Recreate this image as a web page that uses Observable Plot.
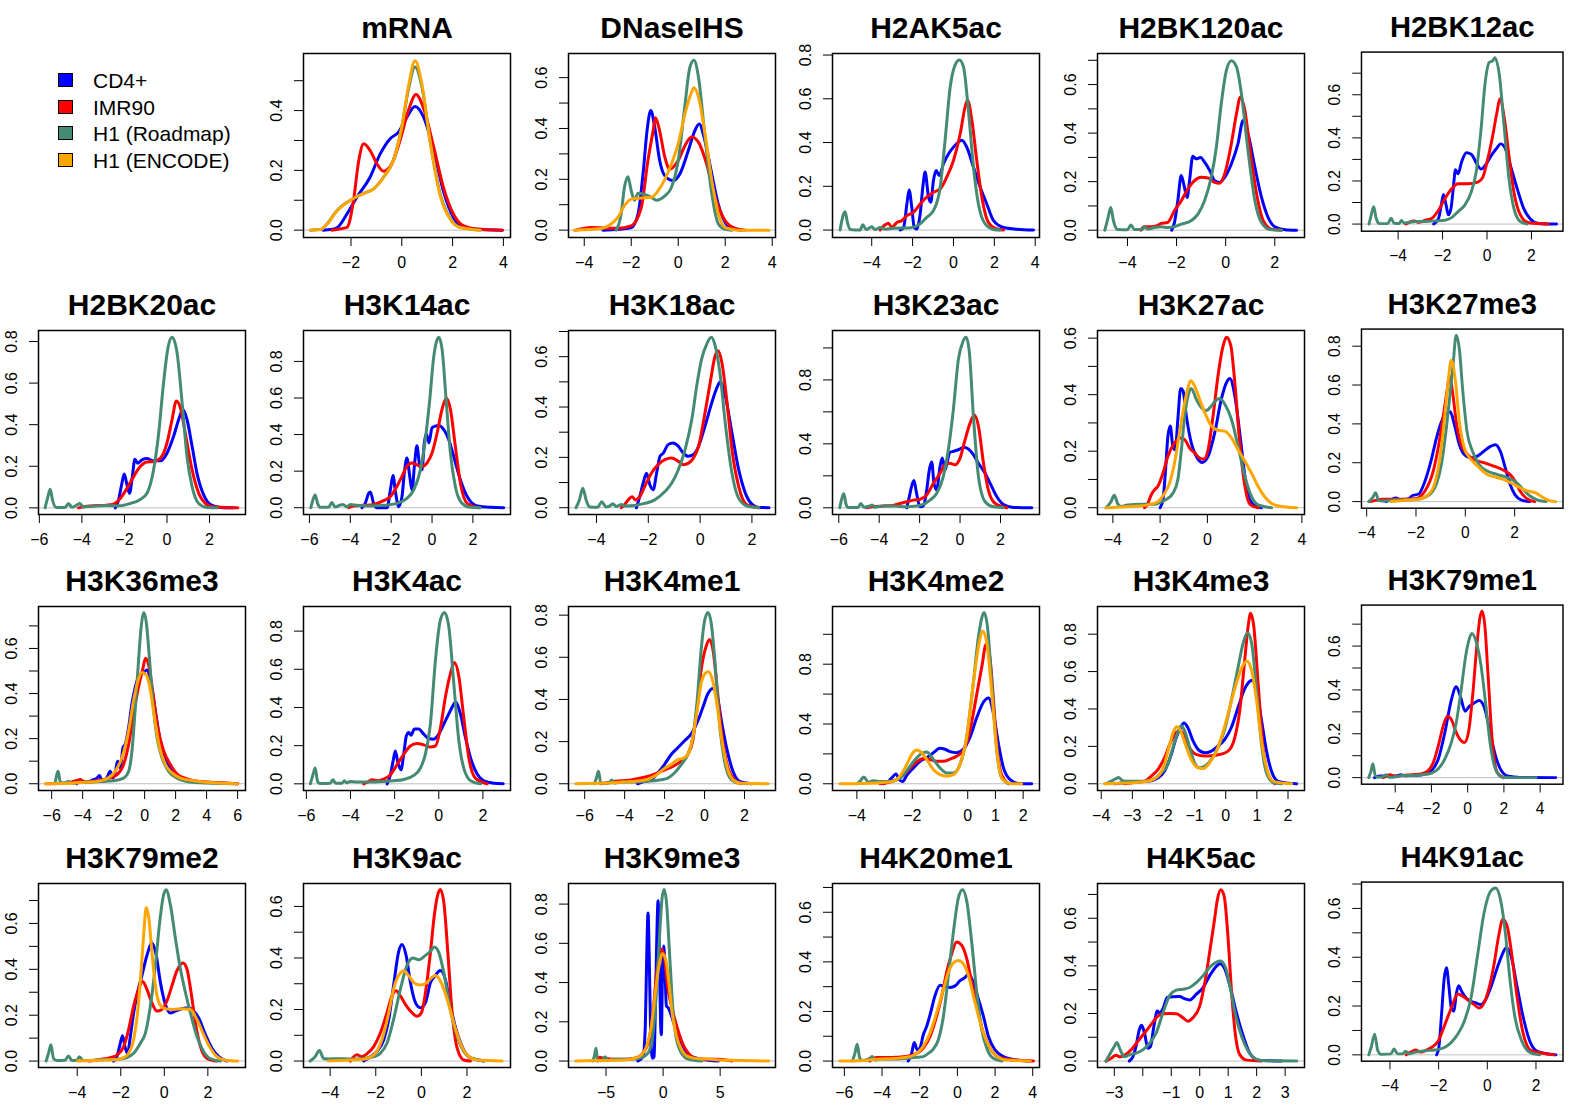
<!DOCTYPE html>
<html><head><meta charset="utf-8">
<script src="https://cdn.jsdelivr.net/npm/d3@7"></script>
<script src="https://cdn.jsdelivr.net/npm/@observablehq/plot@0.6"></script>
<style>
html,body{margin:0;padding:0;background:#fff;overflow:hidden}
#fig{position:relative;width:1581px;height:1107px;overflow:hidden;font-family:"Liberation Sans",Arial,sans-serif;background:#fff}
.panel{position:absolute}
.li{position:absolute;font-size:21px;color:#000;white-space:nowrap;line-height:21px;transform:translateY(-50%)}
.sw{position:absolute;width:15px;height:14px;border:1.5px solid #000;box-sizing:border-box;transform:translateY(-50%)}
</style></head><body><div id="fig"></div><script>
// ---------- series / legend ----------
const seriesNames = ["CD4+","IMR90","H1 (Roadmap)","H1 (ENCODE)"];
const seriesColors = ["#0000FF","#FF0000","#458B74","#FFA500"];

// ---------- curves: [x, density] ----------
const mRNA_CD4=[[-3.1,0],[-2.8,0.002],[-2.55,0.008],[-2.16,0.054],[-1.77,0.11],[-1.25,0.177],[-0.85,0.255],[-0.46,0.306],[-0.13,0.328],[0.2,0.378],[0.52,0.414],[0.85,0.38],[1.25,0.27],[1.64,0.13],[2.03,0.043],[2.42,0.011],[2.95,0.003],[3.96,0]];
const mRNA_IMR90=[[-2.75,0],[-2.16,0.009],[-1.9,0.1],[-1.7,0.23],[-1.5,0.289],[-1.25,0.267],[-0.98,0.222],[-0.72,0.197],[-0.39,0.222],[-0.07,0.3],[0.26,0.4],[0.56,0.454],[0.85,0.41],[1.25,0.28],[1.64,0.143],[2.03,0.054],[2.42,0.015],[2.95,0.004],[3.96,0]];
const mRNA_H1R=[[-3.6,0],[-3.2,0.002],[-2.95,0.02],[-2.55,0.066],[-2.03,0.1],[-1.5,0.123],[-1.11,0.138],[-0.72,0.177],[-0.33,0.235],[0,0.345],[0.26,0.47],[0.52,0.546],[0.79,0.48],[1.11,0.3],[1.5,0.125],[1.9,0.04],[2.29,0.01],[3.1,0]];
const mRNA_H1E=[[-3.6,0],[-3.2,0.002],[-2.95,0.02],[-2.55,0.065],[-2.03,0.1],[-1.5,0.123],[-1.11,0.138],[-0.72,0.177],[-0.33,0.233],[0,0.345],[0.26,0.48],[0.52,0.567],[0.79,0.49],[1.11,0.3],[1.5,0.12],[1.9,0.037],[2.29,0.009],[3.08,0]];

const DNase_CD4=[[-3.2,0],[-2.57,0.003],[-2.0,0.01],[-1.71,0.063],[-1.5,0.22],[-1.31,0.405],[-1.17,0.471],[-1.0,0.405],[-0.79,0.274],[-0.57,0.214],[-0.21,0.195],[0.07,0.221],[0.43,0.313],[0.71,0.392],[0.89,0.418],[1.14,0.35],[1.43,0.22],[1.71,0.1],[2.0,0.03],[2.29,0.004],[2.71,0]];
const DNase_IMR90=[[-4.36,0],[-3.71,0.01],[-2.57,0.007],[-2.0,0.017],[-1.57,0.09],[-1.29,0.274],[-1.07,0.39],[-0.97,0.442],[-0.79,0.39],[-0.57,0.287],[-0.36,0.24],[0,0.274],[0.29,0.333],[0.57,0.366],[0.86,0.346],[1.21,0.26],[1.57,0.129],[2.0,0.037],[2.43,0.007],[2.86,0]];
const DNase_H1R=[[-2.64,0],[-2.43,0.063],[-2.29,0.168],[-2.14,0.21],[-2.0,0.155],[-1.86,0.118],[-1.71,0.145],[-1.43,0.14],[-1.14,0.129],[-0.93,0.118],[-0.57,0.135],[-0.29,0.168],[0,0.274],[0.26,0.471],[0.5,0.642],[0.67,0.668],[0.86,0.603],[1.14,0.366],[1.43,0.142],[1.71,0.024],[2.0,0.003],[2.29,0]];
const DNase_H1E=[[-4.43,0],[-3.29,0.006],[-2.86,0.024],[-2.57,0.05],[-2.29,0.096],[-2.0,0.122],[-1.57,0.126],[-1.14,0.129],[-0.86,0.155],[-0.57,0.2],[-0.29,0.26],[0,0.34],[0.29,0.458],[0.57,0.543],[0.67,0.56],[0.86,0.524],[1.14,0.379],[1.43,0.195],[1.71,0.063],[2.0,0.01],[2.57,0],[3.86,0]];

const H2AK5ac_CD4=[[-2.61,0],[-2.44,0.012],[-2.28,0.119],[-2.17,0.183],[-2.04,0.104],[-1.92,0.012],[-1.79,0.005],[-1.63,0.073],[-1.5,0.196],[-1.39,0.265],[-1.22,0.15],[-1.11,0.127],[-0.98,0.226],[-0.85,0.272],[-0.69,0.249],[-0.49,0.303],[-0.24,0.349],[0,0.379],[0.24,0.402],[0.41,0.41],[0.65,0.379],[0.98,0.287],[1.31,0.196],[1.63,0.119],[1.96,0.043],[2.45,0.012],[3.1,0.004],[3.92,0]];
const H2AK5ac_IMR90=[[-3.59,0],[-3.34,0.024],[-3.18,0.031],[-3.02,0.012],[-2.77,0.035],[-2.53,0.043],[-2.28,0.066],[-1.96,0.081],[-1.63,0.119],[-1.31,0.15],[-0.98,0.173],[-0.65,0.188],[-0.33,0.242],[0,0.318],[0.33,0.44],[0.57,0.563],[0.69,0.593],[0.9,0.502],[1.14,0.318],[1.39,0.15],[1.71,0.035],[2.12,0.005],[2.45,0]];
const H2AK5ac_H1R=[[-5.55,0],[-5.38,0.073],[-5.3,0.084],[-5.19,0.035],[-5.06,0.003],[-4.57,0],[-4.44,0.024],[-4.27,0.002],[-4.0,0.015],[-3.83,0.002],[-3.59,0.012],[-3.34,0.004],[-2.94,0.008],[-2.12,0.01],[-1.71,0.023],[-1.31,0.058],[-0.98,0.089],[-0.65,0.196],[-0.41,0.41],[-0.16,0.654],[0.08,0.754],[0.29,0.777],[0.49,0.746],[0.73,0.547],[0.98,0.287],[1.22,0.119],[1.55,0.028],[1.96,0.003],[2.28,0]];

const H2BK120ac_CD4=[[-2.2,0],[-2.09,0.03],[-1.95,0.121],[-1.81,0.225],[-1.68,0.177],[-1.57,0.135],[-1.47,0.205],[-1.34,0.305],[-1.2,0.294],[-1.02,0.3],[-0.86,0.28],[-0.65,0.246],[-0.45,0.204],[-0.25,0.197],[-0.04,0.218],[0.23,0.273],[0.5,0.356],[0.71,0.452],[0.91,0.397],[1.19,0.259],[1.46,0.135],[1.73,0.052],[2.0,0.014],[2.41,0.002],[2.89,0]];
const H2BK120ac_IMR90=[[-3.45,0],[-3.32,0.014],[-3.04,0.014],[-2.77,0.02],[-2.63,0.028],[-2.36,0.032],[-2.09,0.08],[-1.81,0.121],[-1.54,0.17],[-1.27,0.204],[-1.0,0.218],[-0.72,0.215],[-0.45,0.197],[-0.25,0.193],[-0.04,0.232],[0.23,0.356],[0.44,0.48],[0.6,0.549],[0.78,0.494],[0.98,0.342],[1.26,0.149],[1.53,0.039],[1.87,0.004],[2.28,0]];
const H2BK120ac_H1R=[[-4.92,0],[-4.79,0.052],[-4.68,0.094],[-4.57,0.039],[-4.4,0.003],[-4.0,0.002],[-3.86,0.022],[-3.72,0.003],[-3.38,0.004],[-3.32,0.014],[-3.18,0.005],[-2.9,0.011],[-2.63,0.014],[-2.36,0.011],[-2.09,0.014],[-1.81,0.025],[-1.41,0.039],[-1.13,0.066],[-0.86,0.121],[-0.59,0.218],[-0.38,0.342],[-0.18,0.521],[0.03,0.659],[0.23,0.698],[0.44,0.673],[0.64,0.563],[0.91,0.328],[1.19,0.121],[1.46,0.032],[1.8,0.003],[2.28,0]];

const H2BK12ac_CD4=[[-2.4,0],[-2.18,0.027],[-2.06,0.088],[-1.96,0.137],[-1.84,0.088],[-1.74,0.043],[-1.62,0.073],[-1.52,0.164],[-1.42,0.252],[-1.3,0.233],[-1.15,0.286],[-0.93,0.331],[-0.71,0.324],[-0.49,0.286],[-0.27,0.255],[-0.04,0.278],[0.18,0.316],[0.4,0.347],[0.62,0.372],[0.84,0.347],[1.06,0.27],[1.36,0.164],[1.65,0.073],[1.95,0.024],[2.32,0.003],[3.13,0]];
const H2BK12ac_IMR90=[[-3.66,0],[-3.51,0.008],[-3.29,0.015],[-3.07,0.008],[-2.77,0.018],[-2.48,0.027],[-2.18,0.065],[-1.89,0.119],[-1.59,0.164],[-1.3,0.187],[-0.86,0.187],[-0.41,0.195],[-0.19,0.217],[0.03,0.3],[0.25,0.407],[0.44,0.514],[0.58,0.582],[0.77,0.498],[0.99,0.316],[1.21,0.149],[1.5,0.043],[1.87,0.006],[2.76,0]];
const H2BK12ac_H1R=[[-5.31,0],[-5.21,0.043],[-5.1,0.08],[-4.99,0.027],[-4.84,0.002],[-4.47,0.002],[-4.32,0.027],[-4.18,0.004],[-3.95,0.003],[-3.85,0.017],[-3.73,0.005],[-3.51,0.008],[-3.22,0.012],[-2.77,0.012],[-2.33,0.015],[-1.89,0.018],[-1.59,0.03],[-1.3,0.058],[-1.0,0.088],[-0.71,0.149],[-0.49,0.24],[-0.27,0.438],[-0.09,0.65],[0.1,0.75],[0.25,0.757],[0.35,0.772],[0.55,0.696],[0.77,0.453],[0.99,0.21],[1.21,0.073],[1.5,0.012],[1.8,0]];

const H2BK20ac_CD4=[[-2.43,0],[-2.28,0.037],[-2.12,0.118],[-2.01,0.163],[-1.88,0.11],[-1.76,0.07],[-1.63,0.15],[-1.51,0.234],[-1.38,0.215],[-1.18,0.231],[-0.94,0.237],[-0.63,0.226],[-0.31,0.226],[0,0.263],[0.31,0.344],[0.55,0.425],[0.75,0.473],[0.94,0.425],[1.18,0.296],[1.41,0.166],[1.73,0.061],[2.04,0.016],[2.51,0.002],[3.14,0]];
const H2BK20ac_IMR90=[[-4.16,0],[-3.77,0.008],[-3.3,0.011],[-2.83,0.013],[-2.51,0.018],[-2.2,0.045],[-1.88,0.094],[-1.57,0.15],[-1.26,0.199],[-0.94,0.221],[-0.63,0.223],[-0.31,0.239],[0,0.312],[0.24,0.425],[0.44,0.514],[0.63,0.481],[0.86,0.36],[1.18,0.183],[1.57,0.053],[2.04,0.008],[2.67,0.002],[3.33,0]];
const H2BK20ac_H1R=[[-5.73,0],[-5.6,0.053],[-5.49,0.089],[-5.38,0.037],[-5.21,0.002],[-4.79,0.002],[-4.63,0.021],[-4.47,0.003],[-4.24,0.013],[-4.11,0.021],[-3.92,0.004],[-3.45,0.008],[-2.83,0.011],[-2.2,0.01],[-1.73,0.021],[-1.26,0.04],[-0.94,0.07],[-0.63,0.183],[-0.39,0.36],[-0.16,0.603],[0.05,0.772],[0.24,0.82],[0.47,0.748],[0.71,0.506],[0.94,0.247],[1.18,0.102],[1.49,0.021],[1.88,0.002],[2.35,0]];

const H3K14ac_CD4=[[-3.43,0],[-3.27,0.024],[-3.1,0.079],[-3.02,0.086],[-2.86,0.024],[-2.7,0],[-2.2,0],[-2.04,0.097],[-1.91,0.176],[-1.78,0.079],[-1.63,0.006],[-1.47,0.061],[-1.34,0.207],[-1.23,0.272],[-1.09,0.171],[-0.98,0.097],[-0.85,0.244],[-0.74,0.339],[-0.6,0.226],[-0.49,0.207],[-0.38,0.354],[-0.28,0.405],[-0.15,0.354],[0,0.437],[0.16,0.446],[0.33,0.45],[0.57,0.428],[0.82,0.372],[1.06,0.281],[1.39,0.152],[1.72,0.061],[2.21,0.009],[2.86,0.002],[3.51,0]];
const H3K14ac_IMR90=[[-4.08,0],[-3.84,0.009],[-3.35,0.013],[-2.86,0.018],[-2.37,0.039],[-2.04,0.061],[-1.72,0.116],[-1.47,0.171],[-1.23,0.226],[-0.98,0.244],[-0.74,0.235],[-0.49,0.226],[-0.25,0.244],[0,0.299],[0.25,0.409],[0.49,0.538],[0.7,0.598],[0.9,0.538],[1.14,0.336],[1.39,0.134],[1.72,0.024],[2.29,0]];
const H3K14ac_H1R=[[-5.93,0],[-5.83,0.042],[-5.72,0.07],[-5.6,0.024],[-5.47,0.002],[-5.07,0.002],[-4.9,0.028],[-4.74,0.004],[-4.49,0.015],[-4.36,0.018],[-4.17,0.005],[-4.0,0.018],[-3.68,0.013],[-3.02,0.009],[-2.37,0.013],[-1.72,0.024],[-1.23,0.051],[-0.9,0.097],[-0.57,0.207],[-0.33,0.372],[-0.11,0.593],[0.08,0.822],[0.21,0.905],[0.33,0.932],[0.49,0.868],[0.7,0.574],[0.9,0.299],[1.14,0.116],[1.47,0.024],[1.88,0.002],[2.37,0]];

const H3K18ac_CD4=[[-2.46,0],[-2.33,0.044],[-2.2,0.097],[-2.07,0.137],[-1.94,0.091],[-1.81,0.071],[-1.68,0.137],[-1.55,0.204],[-1.42,0.217],[-1.23,0.251],[-1.04,0.257],[-0.84,0.244],[-0.65,0.217],[-0.45,0.204],[-0.26,0.211],[-0.06,0.244],[0.19,0.324],[0.45,0.417],[0.65,0.477],[0.78,0.5],[0.97,0.444],[1.23,0.297],[1.49,0.151],[1.75,0.057],[2.01,0.013],[2.27,0.001],[2.66,0]];
const H3K18ac_IMR90=[[-3.04,0],[-2.91,0.013],[-2.72,0.037],[-2.63,0.044],[-2.5,0.031],[-2.33,0.044],[-2.14,0.084],[-1.88,0.137],[-1.62,0.171],[-1.36,0.191],[-1.1,0.197],[-0.84,0.184],[-0.65,0.171],[-0.45,0.177],[-0.26,0.197],[-0.06,0.244],[0.19,0.377],[0.39,0.497],[0.58,0.604],[0.69,0.624],[0.84,0.577],[1.04,0.417],[1.23,0.231],[1.49,0.084],[1.81,0.011],[2.27,0]];
const H3K18ac_H1R=[[-4.79,0],[-4.66,0.031],[-4.53,0.077],[-4.4,0.031],[-4.27,0.003],[-3.95,0.002],[-3.8,0.024],[-3.63,0.003],[-3.43,0.011],[-3.37,0.016],[-3.24,0.005],[-3.04,0.013],[-2.91,0.007],[-2.53,0.009],[-2.14,0.017],[-1.75,0.031],[-1.36,0.064],[-1.1,0.097],[-0.84,0.151],[-0.58,0.231],[-0.32,0.351],[-0.13,0.484],[0.06,0.591],[0.26,0.651],[0.43,0.677],[0.58,0.644],[0.78,0.524],[0.97,0.337],[1.23,0.137],[1.49,0.037],[1.81,0.007],[2.27,0]];

const H3K23ac_CD4=[[-2.64,0],[-2.51,0.069],[-2.4,0.132],[-2.28,0.17],[-2.15,0.09],[-1.98,0.006],[-1.82,0.01],[-1.65,0.111],[-1.52,0.237],[-1.4,0.286],[-1.29,0.153],[-1.16,0.111],[-0.99,0.258],[-0.88,0.311],[-0.74,0.237],[-0.63,0.29],[-0.5,0.347],[-0.33,0.353],[-0.08,0.363],[0.17,0.378],[0.41,0.368],[0.66,0.332],[0.91,0.279],[1.24,0.216],[1.49,0.153],[1.82,0.069],[2.15,0.021],[2.64,0.002],[3.55,0]];
const H3K23ac_IMR90=[[-4.63,0],[-4.3,0.006],[-3.8,0.011],[-3.31,0.015],[-2.98,0.027],[-2.64,0.038],[-2.31,0.048],[-1.98,0.053],[-1.65,0.08],[-1.32,0.153],[-0.99,0.216],[-0.74,0.269],[-0.5,0.279],[-0.25,0.269],[0,0.311],[0.25,0.426],[0.5,0.531],[0.71,0.58],[0.91,0.51],[1.16,0.279],[1.4,0.111],[1.74,0.027],[2.31,0]];
const H3K23ac_H1R=[[-5.95,0],[-5.87,0.048],[-5.75,0.09],[-5.65,0.027],[-5.54,0.002],[-5.04,0.002],[-4.91,0.027],[-4.76,0.004],[-4.46,0.011],[-4.35,0.017],[-4.21,0.004],[-3.8,0.011],[-3.31,0.011],[-2.64,0.006],[-2.15,0.011],[-1.82,0.021],[-1.49,0.048],[-1.16,0.09],[-0.83,0.195],[-0.58,0.363],[-0.33,0.616],[-0.08,0.931],[0.13,1.036],[0.3,1.067],[0.46,0.973],[0.66,0.574],[0.91,0.195],[1.24,0.038],[1.65,0.006],[2.15,0]];

const H3K27ac_CD4=[[-2.0,0],[-1.88,0.027],[-1.78,0.122],[-1.67,0.253],[-1.57,0.289],[-1.46,0.217],[-1.36,0.205],[-1.25,0.312],[-1.13,0.422],[-1.03,0.413],[-0.89,0.324],[-0.68,0.229],[-0.47,0.182],[-0.23,0.16],[0.03,0.182],[0.31,0.265],[0.59,0.384],[0.81,0.443],[0.95,0.457],[1.16,0.396],[1.37,0.265],[1.59,0.11],[1.8,0.027],[2.08,0.004],[2.29,0]];
const H3K27ac_IMR90=[[-2.66,0],[-2.52,0.015],[-2.38,0.045],[-2.24,0.063],[-2.1,0.075],[-1.88,0.122],[-1.67,0.182],[-1.39,0.229],[-1.13,0.247],[-0.96,0.241],[-0.75,0.211],[-0.54,0.194],[-0.33,0.176],[-0.14,0.172],[0.03,0.205],[0.24,0.324],[0.45,0.467],[0.67,0.574],[0.81,0.603],[0.99,0.574],[1.16,0.443],[1.37,0.229],[1.59,0.075],[1.8,0.012],[2.15,0]];
const H3K27ac_H1R=[[-4.29,0],[-4.08,0.021],[-3.94,0.044],[-3.8,0.015],[-3.65,0.004],[-3.37,0.01],[-2.8,0.012],[-2.25,0.012],[-1.95,0.021],[-1.67,0.033],[-1.46,0.051],[-1.25,0.099],[-1.1,0.205],[-0.96,0.324],[-0.82,0.396],[-0.68,0.422],[-0.47,0.384],[-0.25,0.354],[-0.04,0.344],[0.17,0.36],[0.38,0.381],[0.52,0.386],[0.74,0.366],[1.02,0.312],[1.3,0.217],[1.59,0.11],[1.87,0.039],[2.15,0.01],[2.72,0]];
const H3K27ac_H1E=[[-4.29,0],[-3.23,0.004],[-2.52,0.01],[-2.1,0.021],[-1.81,0.051],[-1.6,0.087],[-1.39,0.158],[-1.18,0.265],[-0.96,0.372],[-0.82,0.425],[-0.71,0.449],[-0.54,0.431],[-0.33,0.384],[-0.11,0.336],[0.17,0.289],[0.45,0.274],[0.74,0.271],[1.02,0.247],[1.3,0.205],[1.59,0.164],[1.87,0.122],[2.15,0.075],[2.44,0.037],[2.72,0.015],[3.14,0.004],[3.78,0]];

const H3K27me3_CD4=[[-3.22,0],[-3.02,0.01],[-2.82,0.019],[-2.62,0.008],[-2.29,0.015],[-2.16,0.03],[-1.89,0.039],[-1.63,0.107],[-1.36,0.225],[-1.17,0.327],[-0.97,0.411],[-0.77,0.453],[-0.61,0.462],[-0.44,0.394],[-0.24,0.293],[-0.04,0.242],[0.23,0.225],[0.49,0.234],[0.75,0.259],[1.02,0.284],[1.22,0.293],[1.42,0.259],[1.62,0.174],[1.81,0.09],[2.01,0.036],[2.28,0.008],[2.61,0]];
const H3K27me3_IMR90=[[-3.88,0],[-3.68,0.005],[-3.35,0.012],[-2.69,0.012],[-2.03,0.015],[-1.63,0.056],[-1.3,0.157],[-1.03,0.327],[-0.83,0.496],[-0.73,0.58],[-0.64,0.645],[-0.5,0.547],[-0.37,0.411],[-0.17,0.293],[0.09,0.242],[0.36,0.217],[0.75,0.2],[1.15,0.183],[1.55,0.161],[1.81,0.14],[2.01,0.107],[2.21,0.056],[2.48,0.017],[2.81,0]];
const H3K27me3_H1R=[[-3.92,0],[-3.75,0.022],[-3.64,0.046],[-3.51,0.005],[-3.35,0.003],[-2.95,0.008],[-2.42,0.008],[-2.03,0.012],[-1.63,0.022],[-1.36,0.047],[-1.17,0.09],[-0.97,0.191],[-0.77,0.377],[-0.64,0.53],[-0.5,0.699],[-0.37,0.856],[-0.24,0.783],[-0.11,0.58],[0.07,0.36],[0.29,0.259],[0.56,0.191],[0.89,0.157],[1.28,0.14],[1.68,0.124],[2.08,0.098],[2.34,0.064],[2.61,0.03],[2.94,0.008],[3.27,0]];
const H3K27me3_H1E=[[-3.02,0],[-2.29,0.008],[-1.89,0.012],[-1.5,0.036],[-1.23,0.098],[-1.03,0.225],[-0.83,0.445],[-0.7,0.614],[-0.57,0.728],[-0.41,0.631],[-0.24,0.411],[-0.04,0.276],[0.23,0.217],[0.49,0.183],[0.89,0.14],[1.28,0.124],[1.68,0.107],[2.08,0.081],[2.48,0.056],[2.81,0.047],[3.14,0.022],[3.4,0.005],[3.67,0]];

const H3K36me3_CD4=[[-4.38,0],[-4.16,0.018],[-3.99,0.01],[-3.73,0.007],[-3.3,0.018],[-3.08,0.025],[-2.91,0.037],[-2.76,0.01],[-2.54,0.013],[-2.39,0.033],[-2.22,0.055],[-2.05,0.025],[-1.9,0.048],[-1.75,0.1],[-1.57,0.07],[-1.4,0.16],[-1.25,0.175],[-1.03,0.25],[-0.82,0.355],[-0.6,0.43],[-0.32,0.482],[-0.06,0.493],[0.15,0.504],[0.41,0.445],[0.69,0.325],[0.97,0.205],[1.34,0.115],[1.77,0.055],[2.31,0.025],[3.17,0.01],[4.46,0.004],[6.01,0]];
const H3K36me3_IMR90=[[-6.31,0],[-5.02,0.003],[-4.16,0.018],[-3.84,0.007],[-3.08,0.013],[-2.44,0.022],[-1.79,0.04],[-1.36,0.085],[-1.03,0.175],[-0.71,0.31],[-0.39,0.43],[-0.11,0.512],[0.06,0.557],[0.26,0.527],[0.54,0.4],[0.84,0.25],[1.23,0.145],[1.66,0.085],[2.09,0.043],[2.74,0.021],[3.6,0.01],[4.89,0.004],[6.01,0]];
const H3K36me3_H1R=[[-5.78,0],[-5.67,0.04],[-5.58,0.055],[-5.45,0.01],[-5.24,0.002],[-4.91,0.01],[-4.7,0.002],[-4.16,0.007],[-3.51,0.007],[-2.87,0.01],[-2.0,0.013],[-1.35,0.025],[-1.03,0.055],[-0.82,0.145],[-0.6,0.34],[-0.39,0.549],[-0.22,0.699],[-0.06,0.759],[0.11,0.714],[0.3,0.564],[0.54,0.355],[0.8,0.205],[1.12,0.115],[1.55,0.055],[2.09,0.025],[2.74,0.01],[3.6,0.004],[5.75,0]];
const H3K36me3_H1E=[[-6.42,0],[-5.02,0.002],[-3.94,0.006],[-3.08,0.01],[-2.44,0.022],[-1.9,0.055],[-1.47,0.115],[-1.03,0.235],[-0.71,0.37],[-0.45,0.452],[-0.17,0.493],[0.11,0.482],[0.37,0.415],[0.63,0.295],[0.97,0.16],[1.34,0.085],[1.77,0.048],[2.31,0.025],[3.17,0.013],[4.46,0.004],[6.01,0]];

const H3K4ac_CD4=[[-2.34,0],[-2.19,0.048],[-2.07,0.119],[-1.97,0.172],[-1.85,0.11],[-1.71,0.074],[-1.59,0.154],[-1.47,0.251],[-1.36,0.269],[-1.26,0.255],[-1.1,0.287],[-0.91,0.287],[-0.68,0.26],[-0.45,0.237],[-0.23,0.234],[0,0.26],[0.23,0.313],[0.53,0.384],[0.76,0.428],[0.98,0.366],[1.21,0.242],[1.44,0.136],[1.74,0.051],[2.04,0.016],[2.5,0.003],[2.92,0]];
const H3K4ac_IMR90=[[-3.4,0],[-3.18,0.012],[-3.03,0.021],[-2.8,0.016],[-2.5,0.025],[-2.19,0.048],[-1.89,0.101],[-1.59,0.154],[-1.29,0.198],[-0.98,0.211],[-0.68,0.204],[-0.38,0.193],[-0.15,0.198],[0.08,0.296],[0.3,0.455],[0.53,0.579],[0.71,0.635],[0.91,0.561],[1.13,0.349],[1.36,0.136],[1.66,0.03],[2.19,0]];
const H3K4ac_H1R=[[-5.82,0],[-5.7,0.048],[-5.6,0.083],[-5.49,0.012],[-5.37,0.002],[-4.92,0.003],[-4.8,0.021],[-4.67,0.003],[-4.39,0.003],[-4.28,0.016],[-4.16,0.005],[-4.01,0.012],[-3.71,0.009],[-3.1,0.009],[-2.5,0.012],[-2.04,0.016],[-1.59,0.023],[-1.13,0.044],[-0.83,0.083],[-0.61,0.154],[-0.38,0.313],[-0.15,0.65],[0.08,0.862],[0.26,0.897],[0.45,0.827],[0.68,0.526],[0.91,0.225],[1.13,0.083],[1.44,0.016],[1.89,0]];

const H3K4me1_CD4=[[-3.35,0],[-3.01,0.011],[-2.68,0.019],[-2.34,0.051],[-2.01,0.091],[-1.67,0.139],[-1.34,0.171],[-1.0,0.204],[-0.67,0.236],[-0.33,0.3],[-0.08,0.364],[0.17,0.428],[0.42,0.452],[0.64,0.412],[0.87,0.284],[1.14,0.155],[1.42,0.059],[1.76,0.011],[2.34,0]];
const H3K4me1_IMR90=[[-5.19,0],[-4.69,0.008],[-4.18,0.014],[-3.68,0.018],[-3.18,0.027],[-2.68,0.04],[-2.18,0.059],[-1.67,0.079],[-1.17,0.107],[-0.84,0.139],[-0.59,0.204],[-0.37,0.364],[-0.17,0.54],[0.08,0.652],[0.25,0.684],[0.42,0.636],[0.64,0.444],[0.84,0.252],[1.09,0.107],[1.42,0.027],[1.84,0]];
const H3K4me1_H1R=[[-5.52,0],[-5.41,0.027],[-5.31,0.059],[-5.19,0.003],[-5.02,0.002],[-4.77,0.003],[-4.65,0.018],[-4.52,0.003],[-4.18,0.008],[-3.68,0.008],[-3.01,0.011],[-2.51,0.014],[-2.18,0.019],[-1.84,0.027],[-1.51,0.051],[-1.17,0.091],[-0.84,0.139],[-0.59,0.22],[-0.37,0.396],[-0.17,0.636],[0,0.772],[0.17,0.813],[0.33,0.764],[0.54,0.556],[0.75,0.284],[1.0,0.107],[1.34,0.019],[1.76,0.002],[2.18,0]];
const H3K4me1_H1E=[[-6.44,0],[-4.85,0.003],[-4.02,0.008],[-3.18,0.014],[-2.51,0.035],[-2.01,0.072],[-1.67,0.091],[-1.34,0.115],[-1.09,0.12],[-0.84,0.139],[-0.59,0.22],[-0.37,0.348],[-0.17,0.476],[0.03,0.524],[0.2,0.532],[0.42,0.484],[0.64,0.364],[0.87,0.204],[1.14,0.075],[1.42,0.019],[1.84,0.002],[3.18,0]];

const H3K4me2_CD4=[[-3.05,0],[-2.87,0.016],[-2.69,0.05],[-2.59,0.066],[-2.47,0.027],[-2.35,0.016],[-2.2,0.056],[-1.96,0.106],[-1.72,0.151],[-1.48,0.174],[-1.24,0.208],[-1.0,0.237],[-0.82,0.231],[-0.64,0.215],[-0.4,0.208],[-0.16,0.231],[0.08,0.31],[0.33,0.445],[0.57,0.547],[0.75,0.574],[0.93,0.468],[1.11,0.264],[1.29,0.106],[1.53,0.027],[1.83,0.002],[2.31,0]];
const H3K4me2_IMR90=[[-3.17,0],[-2.81,0.011],[-2.57,0.027],[-2.33,0.056],[-2.08,0.106],[-1.84,0.147],[-1.6,0.169],[-1.36,0.163],[-1.12,0.151],[-0.88,0.151],[-0.64,0.165],[-0.4,0.185],[-0.16,0.219],[0.08,0.355],[0.33,0.603],[0.51,0.784],[0.66,0.931],[0.81,0.829],[0.93,0.558],[1.07,0.219],[1.23,0.056],[1.47,0]];
const H3K4me2_H1R=[[-4.01,0],[-3.89,0.016],[-3.75,0.045],[-3.59,0.011],[-3.41,0.02],[-3.23,0.016],[-2.93,0.016],[-2.69,0.02],[-2.33,0.056],[-2.08,0.118],[-1.84,0.174],[-1.6,0.208],[-1.48,0.212],[-1.24,0.163],[-1.0,0.106],[-0.76,0.072],[-0.52,0.072],[-0.28,0.129],[-0.04,0.31],[0.2,0.671],[0.39,0.987],[0.51,1.112],[0.59,1.146],[0.71,1.055],[0.87,0.671],[1.05,0.219],[1.23,0.038],[1.47,0]];
const H3K4me2_H1E=[[-4.61,0],[-3.89,0.002],[-3.17,0.007],[-2.69,0.016],[-2.45,0.05],[-2.2,0.129],[-2.02,0.197],[-1.84,0.226],[-1.66,0.208],[-1.48,0.163],[-1.24,0.095],[-1.0,0.061],[-0.76,0.05],[-0.52,0.061],[-0.28,0.129],[-0.04,0.31],[0.2,0.671],[0.39,0.92],[0.54,1.021],[0.69,0.942],[0.87,0.603],[1.05,0.219],[1.23,0.038],[1.53,0.002],[1.95,0]];

const H3K4me3_CD4=[[-3.58,0],[-3.04,0.01],[-2.51,0.013],[-2.18,0.031],[-1.97,0.067],[-1.75,0.157],[-1.59,0.247],[-1.45,0.301],[-1.34,0.325],[-1.22,0.301],[-1.05,0.229],[-0.89,0.184],[-0.68,0.166],[-0.46,0.175],[-0.25,0.202],[-0.03,0.238],[0.18,0.301],[0.4,0.41],[0.61,0.509],[0.85,0.554],[0.99,0.5],[1.15,0.338],[1.31,0.175],[1.47,0.067],[1.69,0.013],[2.28,0]];
const H3K4me3_IMR90=[[-3.26,0],[-2.94,0.007],[-2.61,0.013],[-2.4,0.04],[-2.18,0.076],[-1.97,0.139],[-1.75,0.229],[-1.59,0.274],[-1.48,0.283],[-1.32,0.256],[-1.16,0.193],[-0.95,0.157],[-0.68,0.148],[-0.35,0.153],[-0.09,0.161],[0.13,0.184],[0.29,0.247],[0.45,0.392],[0.61,0.662],[0.72,0.843],[0.8,0.912],[0.9,0.843],[1.04,0.536],[1.2,0.193],[1.37,0.045],[1.58,0]];
const H3K4me3_H1R=[[-3.85,0],[-3.69,0.013],[-3.53,0.027],[-3.45,0.034],[-3.31,0.016],[-3.1,0.013],[-2.72,0.013],[-2.51,0.016],[-2.29,0.027],[-2.08,0.058],[-1.86,0.103],[-1.7,0.193],[-1.54,0.274],[-1.43,0.31],[-1.3,0.274],[-1.16,0.193],[-1.0,0.112],[-0.84,0.085],[-0.68,0.094],[-0.46,0.13],[-0.25,0.193],[-0.03,0.292],[0.18,0.446],[0.4,0.626],[0.56,0.753],[0.7,0.807],[0.83,0.753],[0.99,0.5],[1.15,0.211],[1.31,0.058],[1.53,0.007],[1.8,0]];
const H3K4me3_H1E=[[-3.9,0],[-3.04,0.005],[-2.51,0.013],[-2.18,0.04],[-1.97,0.103],[-1.8,0.211],[-1.67,0.283],[-1.57,0.305],[-1.45,0.283],[-1.3,0.211],[-1.11,0.13],[-0.89,0.085],[-0.73,0.081],[-0.52,0.112],[-0.3,0.175],[-0.09,0.274],[0.13,0.41],[0.34,0.536],[0.53,0.626],[0.67,0.657],[0.83,0.608],[0.99,0.446],[1.15,0.229],[1.31,0.085],[1.53,0.013],[2.12,0]];

const H3K79me1_CD4=[[-5.14,0],[-4.86,0.008],[-3.96,0.008],[-3.69,0.013],[-3.42,0.008],[-2.88,0.01],[-2.34,0.016],[-1.98,0.033],[-1.62,0.085],[-1.26,0.205],[-0.9,0.355],[-0.63,0.415],[-0.4,0.37],[-0.14,0.303],[0.09,0.325],[0.36,0.34],[0.63,0.352],[0.9,0.325],[1.17,0.235],[1.44,0.13],[1.8,0.04],[2.25,0.006],[2.88,0.001],[4.86,0]];
const H3K79me1_IMR90=[[-4.68,0],[-4.5,0.006],[-4.32,0.013],[-3.96,0.006],[-3.6,0.01],[-3.06,0.013],[-2.52,0.018],[-2.16,0.033],[-1.89,0.07],[-1.62,0.145],[-1.35,0.235],[-1.12,0.28],[-0.9,0.265],[-0.63,0.205],[-0.36,0.168],[-0.18,0.16],[0.04,0.205],[0.27,0.37],[0.5,0.595],[0.68,0.73],[0.79,0.76],[0.94,0.7],[1.12,0.475],[1.35,0.175],[1.62,0.025],[1.98,0]];
const H3K79me1_H1R=[[-5.46,0],[-5.35,0.025],[-5.23,0.063],[-5.1,0.01],[-4.95,0.002],[-4.68,0.004],[-4.5,0.013],[-4.32,0.001],[-3.96,0.004],[-3.6,0.01],[-3.06,0.01],[-2.52,0.013],[-1.98,0.021],[-1.62,0.04],[-1.26,0.085],[-0.9,0.16],[-0.63,0.25],[-0.36,0.4],[-0.09,0.565],[0.09,0.633],[0.23,0.658],[0.45,0.625],[0.72,0.52],[0.99,0.34],[1.26,0.145],[1.53,0.04],[1.89,0.003],[2.52,0],[3.78,0]];

const H3K79me2_CD4=[[-2.33,0],[-2.18,0.019],[-2.02,0.078],[-1.92,0.11],[-1.79,0.056],[-1.69,0.034],[-1.56,0.107],[-1.41,0.21],[-1.23,0.299],[-1.03,0.372],[-0.8,0.46],[-0.57,0.516],[-0.37,0.46],[-0.18,0.343],[0.05,0.247],[0.28,0.21],[0.51,0.218],[0.81,0.228],[1.12,0.232],[1.35,0.218],[1.58,0.188],[1.89,0.115],[2.19,0.056],[2.5,0.019],[2.88,0]];
const H3K79me2_IMR90=[[-3.48,0],[-2.94,0.007],[-2.48,0.015],[-2.18,0.026],[-1.87,0.063],[-1.64,0.137],[-1.41,0.24],[-1.18,0.313],[-1.0,0.347],[-0.8,0.313],[-0.57,0.254],[-0.34,0.218],[-0.11,0.225],[0.12,0.262],[0.35,0.328],[0.58,0.394],[0.86,0.428],[1.04,0.401],[1.23,0.299],[1.43,0.166],[1.66,0.063],[1.96,0.012],[2.42,0]];
const H3K79me2_H1R=[[-5.43,0],[-5.32,0.034],[-5.21,0.071],[-5.09,0.012],[-4.94,0.002],[-4.56,0.004],[-4.4,0.022],[-4.25,0.003],[-4.02,0.004],[-3.9,0.019],[-3.74,0.003],[-3.25,0.004],[-2.64,0.007],[-2.02,0.009],[-1.72,0.015],[-1.41,0.034],[-1.1,0.078],[-0.87,0.122],[-0.64,0.24],[-0.41,0.416],[-0.21,0.607],[-0.03,0.725],[0.08,0.747],[0.28,0.681],[0.51,0.534],[0.74,0.401],[0.97,0.299],[1.2,0.21],[1.5,0.107],[1.81,0.041],[2.19,0.007],[2.58,0]];
const H3K79me2_H1E=[[-3.99,0],[-2.94,0.004],[-2.18,0.007],[-1.87,0.015],[-1.64,0.034],[-1.41,0.093],[-1.23,0.21],[-1.07,0.387],[-0.95,0.549],[-0.83,0.669],[-0.71,0.622],[-0.57,0.475],[-0.41,0.328],[-0.21,0.247],[0.05,0.228],[0.43,0.225],[0.81,0.228],[1.2,0.225],[1.5,0.181],[1.81,0.115],[2.12,0.056],[2.42,0.019],[2.81,0.004],[3.37,0]];

const H3K9ac_CD4=[[-2.53,0],[-2.24,0.017],[-1.95,0.037],[-1.65,0.083],[-1.43,0.161],[-1.22,0.292],[-1.0,0.423],[-0.85,0.452],[-0.67,0.41],[-0.48,0.305],[-0.26,0.227],[-0.04,0.207],[0.18,0.227],[0.4,0.305],[0.61,0.332],[0.83,0.351],[1.05,0.318],[1.27,0.214],[1.57,0.109],[1.86,0.043],[2.15,0.013],[2.74,0]];
const H3K9ac_IMR90=[[-3.12,0],[-2.83,0.024],[-2.61,0.017],[-2.39,0.028],[-2.09,0.056],[-1.8,0.109],[-1.51,0.187],[-1.29,0.253],[-1.11,0.273],[-0.92,0.253],[-0.7,0.22],[-0.48,0.194],[-0.19,0.174],[0,0.187],[0.18,0.266],[0.4,0.423],[0.57,0.567],[0.72,0.646],[0.83,0.666],[0.98,0.62],[1.16,0.423],[1.35,0.187],[1.57,0.05],[1.86,0.004],[2.15,0]];
const H3K9ac_H1R=[[-4.88,0],[-4.66,0.017],[-4.47,0.041],[-4.29,0.01],[-4.07,0.008],[-3.7,0.009],[-3.12,0.008],[-2.53,0.01],[-2.09,0.017],[-1.8,0.03],[-1.51,0.069],[-1.22,0.161],[-0.92,0.279],[-0.63,0.371],[-0.37,0.4],[-0.12,0.393],[0.18,0.41],[0.4,0.426],[0.57,0.443],[0.76,0.423],[0.98,0.345],[1.27,0.2],[1.57,0.096],[1.86,0.037],[2.15,0.013],[2.74,0]];
const H3K9ac_H1E=[[-4.07,0],[-3.12,0.004],[-2.53,0.007],[-2.09,0.024],[-1.73,0.083],[-1.43,0.187],[-1.22,0.279],[-1.0,0.332],[-0.78,0.349],[-0.56,0.332],[-0.34,0.305],[-0.04,0.295],[0.25,0.305],[0.47,0.325],[0.61,0.332],[0.83,0.312],[1.13,0.24],[1.42,0.148],[1.71,0.069],[2.01,0.024],[2.45,0.004],[3.54,0]];

const H3K9me3_CD4=[[-2.21,0],[-1.76,0.022],[-1.56,0.177],[-1.44,0.52],[-1.32,0.754],[-1.21,0.52],[-1.09,0.143],[-0.94,0.014],[-0.79,0.022],[-0.68,0.263],[-0.56,0.607],[-0.44,0.817],[-0.32,0.52],[-0.21,0.177],[-0.15,0.134],[-0.06,0.435],[0.06,0.586],[0.18,0.435],[0.29,0.28],[0.44,0.272],[0.74,0.229],[1.03,0.177],[1.47,0.108],[1.91,0.057],[2.5,0.022],[3.38,0.009],[4.85,0]];
const H3K9me3_IMR90=[[-5.74,0],[-5.59,0.019],[-5.15,0.014],[-4.26,0.009],[-3.38,0.009],[-2.5,0.014],[-1.91,0.031],[-1.32,0.091],[-0.88,0.246],[-0.59,0.435],[-0.35,0.539],[-0.15,0.57],[0.09,0.539],[0.38,0.384],[0.74,0.281],[1.03,0.212],[1.38,0.143],[1.76,0.083],[2.21,0.04],[2.79,0.014],[3.68,0.009],[4.85,0.009],[6.03,0]];
const H3K9me3_H1R=[[-6.18,0],[-6.03,0.022],[-5.88,0.065],[-5.74,0.005],[-5.44,0.002],[-5.06,0.022],[-4.85,0.003],[-4.41,0.009],[-3.38,0.009],[-2.5,0.01],[-1.91,0.017],[-1.32,0.04],[-0.88,0.143],[-0.59,0.349],[-0.29,0.659],[-0.09,0.831],[0.09,0.874],[0.29,0.814],[0.59,0.522],[0.88,0.246],[1.18,0.108],[1.62,0.04],[2.21,0.01],[3.38,0]];
const H3K9me3_H1E=[[-7.65,0],[-4.85,0.003],[-3.38,0.005],[-2.5,0.014],[-1.91,0.031],[-1.47,0.071],[-1.03,0.177],[-0.68,0.349],[-0.35,0.487],[-0.06,0.547],[0.21,0.522],[0.5,0.401],[0.79,0.246],[1.18,0.126],[1.62,0.057],[2.21,0.022],[3.09,0.012],[3.97,0.01],[4.85,0.005],[6.62,0.003],[9.26,0]];

const H4K20me1_CD4=[[-2.61,0],[-2.43,0.031],[-2.29,0.075],[-2.13,0.045],[-1.99,0.052],[-1.81,0.106],[-1.63,0.14],[-1.42,0.195],[-1.19,0.263],[-0.92,0.306],[-0.66,0.301],[-0.39,0.297],[-0.12,0.303],[0.14,0.324],[0.41,0.337],[0.59,0.351],[0.85,0.317],[1.12,0.249],[1.38,0.181],[1.65,0.099],[2.0,0.045],[2.45,0.018],[3.16,0.004],[3.87,0]];
const H4K20me1_IMR90=[[-4.65,0],[-4.29,0.014],[-3.76,0.014],[-3.23,0.015],[-2.7,0.018],[-2.16,0.031],[-1.81,0.052],[-1.45,0.099],[-1.1,0.181],[-0.83,0.263],[-0.57,0.358],[-0.3,0.433],[-0.04,0.48],[0.23,0.467],[0.5,0.412],[0.76,0.317],[1.03,0.222],[1.38,0.113],[1.74,0.052],[2.09,0.02],[2.62,0.007],[4.04,0]];
const H4K20me1_H1R=[[-5.57,0],[-5.44,0.031],[-5.32,0.068],[-5.18,0.011],[-5.0,0.002],[-4.65,0.011],[-4.52,0.018],[-4.38,0.004],[-4.11,0.008],[-3.4,0.008],[-2.7,0.011],[-2.16,0.015],[-1.81,0.018],[-1.54,0.031],[-1.28,0.048],[-1.01,0.086],[-0.74,0.181],[-0.48,0.344],[-0.21,0.521],[0.05,0.657],[0.27,0.691],[0.5,0.644],[0.76,0.48],[1.03,0.276],[1.29,0.127],[1.56,0.052],[1.91,0.011],[2.36,0]];
const H4K20me1_H1E=[[-6.24,0],[-5.18,0.001],[-4.29,0.007],[-3.4,0.01],[-2.7,0.015],[-2.16,0.031],[-1.81,0.059],[-1.45,0.113],[-1.1,0.195],[-0.74,0.29],[-0.48,0.358],[-0.21,0.396],[0.05,0.405],[0.32,0.392],[0.59,0.344],[0.85,0.263],[1.12,0.181],[1.38,0.113],[1.74,0.052],[2.09,0.02],[2.62,0.004],[3.87,0]];

const H4K5ac_CD4=[[-2.47,0],[-2.35,0.018],[-2.24,0.061],[-2.12,0.132],[-2.04,0.15],[-1.94,0.118],[-1.82,0.054],[-1.73,0.061],[-1.61,0.146],[-1.49,0.21],[-1.41,0.203],[-1.29,0.22],[-1.14,0.267],[-0.94,0.27],[-0.71,0.271],[-0.53,0.262],[-0.35,0.257],[-0.12,0.281],[0.12,0.309],[0.35,0.359],[0.59,0.399],[0.71,0.409],[0.88,0.387],[1.06,0.316],[1.29,0.203],[1.53,0.104],[1.76,0.033],[2.06,0.004],[2.88,0]];
const H4K5ac_IMR90=[[-3.29,0],[-3.12,0.011],[-2.94,0.024],[-2.79,0.018],[-2.62,0.026],[-2.41,0.047],[-2.18,0.082],[-1.94,0.118],[-1.71,0.153],[-1.47,0.189],[-1.29,0.199],[-1.06,0.2],[-0.82,0.199],[-0.59,0.182],[-0.41,0.167],[-0.24,0.182],[0,0.231],[0.18,0.33],[0.35,0.458],[0.51,0.586],[0.62,0.678],[0.74,0.72],[0.86,0.692],[0.98,0.543],[1.12,0.288],[1.26,0.104],[1.41,0.026],[1.65,0.004],[2.18,0]];
const H4K5ac_H1R=[[-3.29,0],[-3.14,0.033],[-3.0,0.061],[-2.91,0.078],[-2.79,0.047],[-2.65,0.018],[-2.47,0.026],[-2.24,0.033],[-2.0,0.047],[-1.76,0.075],[-1.53,0.118],[-1.29,0.203],[-1.06,0.274],[-0.82,0.298],[-0.59,0.302],[-0.35,0.309],[-0.12,0.33],[0.12,0.359],[0.35,0.394],[0.59,0.416],[0.71,0.42],[0.88,0.401],[1.06,0.316],[1.24,0.203],[1.47,0.104],[1.71,0.04],[2.0,0.007],[2.29,0.001],[3.41,0]];

const H4K91ac_CD4=[[-2.08,0],[-1.99,0.031],[-1.88,0.166],[-1.77,0.314],[-1.68,0.357],[-1.57,0.273],[-1.48,0.192],[-1.37,0.179],[-1.28,0.246],[-1.18,0.283],[-1.05,0.26],[-0.87,0.233],[-0.67,0.219],[-0.47,0.213],[-0.27,0.206],[-0.07,0.226],[0.13,0.273],[0.4,0.354],[0.6,0.408],[0.78,0.439],[0.97,0.408],[1.21,0.287],[1.48,0.152],[1.74,0.058],[2.08,0.013],[2.82,0]];
const H4K91ac_IMR90=[[-3.33,0],[-3.15,0.011],[-2.95,0.02],[-2.75,0.011],[-2.55,0.017],[-2.28,0.031],[-2.01,0.058],[-1.74,0.125],[-1.48,0.192],[-1.21,0.249],[-1.01,0.24],[-0.81,0.226],[-0.54,0.206],[-0.34,0.192],[-0.13,0.213],[0.07,0.273],[0.27,0.367],[0.47,0.489],[0.64,0.556],[0.81,0.529],[1.01,0.408],[1.21,0.246],[1.48,0.085],[1.81,0.017],[2.75,0]];
const H4K91ac_H1R=[[-4.87,0],[-4.77,0.031],[-4.63,0.085],[-4.5,0.017],[-4.36,0.002],[-3.96,0.004],[-3.83,0.024],[-3.69,0.004],[-3.49,0.004],[-3.36,0.015],[-3.22,0.004],[-2.95,0.011],[-2.55,0.017],[-2.15,0.02],[-1.74,0.031],[-1.48,0.051],[-1.21,0.085],[-0.94,0.139],[-0.67,0.233],[-0.4,0.408],[-0.13,0.583],[0.13,0.67],[0.34,0.684],[0.54,0.637],[0.74,0.502],[0.94,0.3],[1.14,0.152],[1.41,0.058],[1.74,0.011],[2.15,0]];

// ---------- panels ----------
const panelTitles=["mRNA","DNaseIHS","H2AK5ac","H2BK120ac","H2BK12ac","H2BK20ac","H3K14ac","H3K18ac","H3K23ac","H3K27ac","H3K27me3","H3K36me3","H3K4ac","H3K4me1","H3K4me2","H3K4me3","H3K79me1","H3K79me2","H3K9ac","H3K9me3","H4K20me1","H4K5ac","H4K91ac"];
const panelCurves=[
 [mRNA_CD4,mRNA_IMR90,mRNA_H1R,mRNA_H1E],
 [DNase_CD4,DNase_IMR90,DNase_H1R,DNase_H1E],
 [H2AK5ac_CD4,H2AK5ac_IMR90,H2AK5ac_H1R,null],
 [H2BK120ac_CD4,H2BK120ac_IMR90,H2BK120ac_H1R,null],
 [H2BK12ac_CD4,H2BK12ac_IMR90,H2BK12ac_H1R,null],
 [H2BK20ac_CD4,H2BK20ac_IMR90,H2BK20ac_H1R,null],
 [H3K14ac_CD4,H3K14ac_IMR90,H3K14ac_H1R,null],
 [H3K18ac_CD4,H3K18ac_IMR90,H3K18ac_H1R,null],
 [H3K23ac_CD4,H3K23ac_IMR90,H3K23ac_H1R,null],
 [H3K27ac_CD4,H3K27ac_IMR90,H3K27ac_H1R,H3K27ac_H1E],
 [H3K27me3_CD4,H3K27me3_IMR90,H3K27me3_H1R,H3K27me3_H1E],
 [H3K36me3_CD4,H3K36me3_IMR90,H3K36me3_H1R,H3K36me3_H1E],
 [H3K4ac_CD4,H3K4ac_IMR90,H3K4ac_H1R,null],
 [H3K4me1_CD4,H3K4me1_IMR90,H3K4me1_H1R,H3K4me1_H1E],
 [H3K4me2_CD4,H3K4me2_IMR90,H3K4me2_H1R,H3K4me2_H1E],
 [H3K4me3_CD4,H3K4me3_IMR90,H3K4me3_H1R,H3K4me3_H1E],
 [H3K79me1_CD4,H3K79me1_IMR90,H3K79me1_H1R,null],
 [H3K79me2_CD4,H3K79me2_IMR90,H3K79me2_H1R,H3K79me2_H1E],
 [H3K9ac_CD4,H3K9ac_IMR90,H3K9ac_H1R,H3K9ac_H1E],
 [H3K9me3_CD4,H3K9me3_IMR90,H3K9me3_H1R,H3K9me3_H1E],
 [H4K20me1_CD4,H4K20me1_IMR90,H4K20me1_H1R,H4K20me1_H1E],
 [H4K5ac_CD4,H4K5ac_IMR90,H4K5ac_H1R,null],
 [H4K91ac_CD4,H4K91ac_IMR90,H4K91ac_H1R,null]
];
const xDomains=[[-3.87,4.28],[-4.67,4.14],[-5.92,4.21],[-5.22,3.21],[-5.65,3.42],[-6.04,3.69],[-6.29,3.84],[-5.08,2.91],[-6.31,3.93],[-4.65,4.11],[-4.21,3.96],[-6.85,6.51],[-6.13,3.25],[-6.81,3.55],[-4.88,2.59],[-4.12,2.53],[-5.86,5.26],[-5.78,3.73],[-5.17,3.91],[-8.29,9.85],[-6.63,4.36],[-3.59,3.68],[-5.17,3.11]];
const yDomains=[[-0.0246,0.591],[-0.029,0.695],[-0.034,0.807],[-0.03,0.728],[-0.033,0.798],[-0.032,0.853],[-0.037,0.969],[-0.027,0.704],[-0.042,1.109],[-0.024,0.627],[-0.034,0.888],[-0.03,0.786],[-0.035,0.929],[-0.032,0.841],[-0.045,1.186],[-0.036,0.948],[-0.03,0.787],[-0.028,0.774],[-0.025,0.689],[-0.033,0.905],[-0.026,0.716],[-0.027,0.746],[-0.026,0.708]];
const xTicks=[[-2,0,2,4],[-4,-2,0,2,4],[-4,-2,0,2,4],[-4,-2,0,2],[-4,-2,0,2],[-6,-4,-2,0,2],[-6,-4,-2,0,2],[-4,-2,0,2],[-6,-4,-2,0,2],[-4,-2,0,2,4],[-4,-2,0,2],[-6,-4,-2,0,2,4,6],[-6,-4,-2,0,2],[-6,-4,-2,0,2],[-4,-3,-2,-1,0,1,2],[-4,-3,-2,-1,0,1,2],[-4,-2,0,2,4],[-4,-2,0,2],[-4,-2,0,2],[-5,0,5],[-6,-4,-2,0,2,4],[-3,-2,-1,0,1,2,3],[-4,-2,0,2]];
const xTickLabels=[[-2,0,2,4],[-4,-2,0,2,4],[-4,-2,0,2,4],[-4,-2,0,2],[-4,-2,0,2],[-6,-4,-2,0,2],[-6,-4,-2,0,2],[-4,-2,0,2],[-6,-4,-2,0,2],[-4,-2,0,2,4],[-4,-2,0,2],[-6,-4,-2,0,2,4,6],[-6,-4,-2,0,2],[-6,-4,-2,0,2],[-4,-2,0,1,2],[-4,-3,-2,-1,0,1,2],[-4,-2,0,2,4],[-4,-2,0,2],[-4,-2,0,2],[-5,0,5],[-6,-4,-2,0,2,4],[-3,-1,0,1,2,3],[-4,-2,0,2]];
const Y5=[0,0.1,0.2,0.3,0.4,0.5], Y6=[0,0.1,0.2,0.3,0.4,0.5,0.6], Y7=[0,0.1,0.2,0.3,0.4,0.5,0.6,0.7];
const Y08=[0,0.2,0.4,0.6,0.8], Y10=[0,0.2,0.4,0.6,0.8,1.0];
const yTicks=[Y5,Y6,Y08,Y7,Y7,Y08,Y08,Y7,Y10,Y6,Y08,Y7,Y08,Y08,Y10,Y08,Y7,Y7,Y6,Y08,Y7,Y7,Y7];
const L4=[0,0.2,0.4], L6=[0,0.2,0.4,0.6], L8=[0,0.2,0.4,0.6,0.8], L48=[0,0.4,0.8];
const yTickLabels=[L4,L6,L8,L6,L6,L8,L8,L6,L48,L6,L8,L6,L8,L8,L48,L8,L6,L6,L6,L8,L6,L6,L6];

// ---------- drawing ----------
const fig=document.getElementById("fig");
const FONT="'Liberation Sans', Arial, Helvetica, sans-serif";
const fmtX=d=> d<0 ? "\u2212"+Math.abs(d) : String(d);
const fmtY=d=> d.toFixed(1);
const BOX_W=207, BOX_H=184, ML=38, MT=53, W=264, H=277;

// legend
seriesNames.forEach((name,k)=>{
  const cy=80+26.5*k;
  const sw=document.createElement("div"); sw.className="sw";
  sw.style.left="58px"; sw.style.top=cy+"px"; sw.style.background=seriesColors[k];
  fig.appendChild(sw);
  const t=document.createElement("div"); t.className="li";
  t.style.left="93px"; t.style.top=cy+"px"; t.textContent=name;
  fig.appendChild(t);
});

panelTitles.forEach((title,i)=>{
  const slot=i+1, col=slot%6, row=Math.floor(slot/6);
  const boxL=Math.round(38+264.8*col), boxT=Math.round(53+276.7*row);
  const marks=[Plot.ruleY([0],{stroke:"#bebebe",strokeWidth:1})];
  panelCurves[i].forEach((c,k)=>{
    if(c) marks.push(Plot.line(c,{x:d=>d[0],y:d=>d[1],stroke:seriesColors[k],strokeWidth:3,curve:"monotone-x"}));
  });
  marks.push(
    Plot.frame({stroke:"#000",strokeWidth:1.5}),
    Plot.axisX({ticks:xTicks[i],tickSize:9,tickPadding:10,label:null,fontSize:16,
      tickFormat:d=> xTickLabels[i].includes(d) ? fmtX(d) : ""}),
    Plot.axisY({ticks:yTicks[i],tickSize:9,label:null,tickFormat:()=>""}),
    Plot.text(yTickLabels[i],{y:d=>d,text:d=>fmtY(d),frameAnchor:"left",dx:-27,rotate:-90,
      fontSize:16,textAnchor:"middle",lineAnchor:"middle"}),
    Plot.text([title],{text:d=>d,frameAnchor:"top",dy:-16,lineAnchor:"bottom",fontSize:30,fontWeight:"bold"})
  );
  const svg=Plot.plot({
    width:W,height:H,marginLeft:ML,marginTop:MT,marginRight:W-ML-BOX_W,marginBottom:H-MT-BOX_H,
    x:{domain:xDomains[i],axis:null},y:{domain:yDomains[i],axis:null},
    style:{fontFamily:FONT,background:"transparent",overflow:"visible",color:"#000"},
    marks
  });
  const wrap=document.createElement("div"); wrap.className="panel";
  wrap.style.left=(boxL-ML)+"px"; wrap.style.top=(boxT-MT)+"px";
  wrap.appendChild(svg);
  fig.appendChild(wrap);
});
</script></body></html>
